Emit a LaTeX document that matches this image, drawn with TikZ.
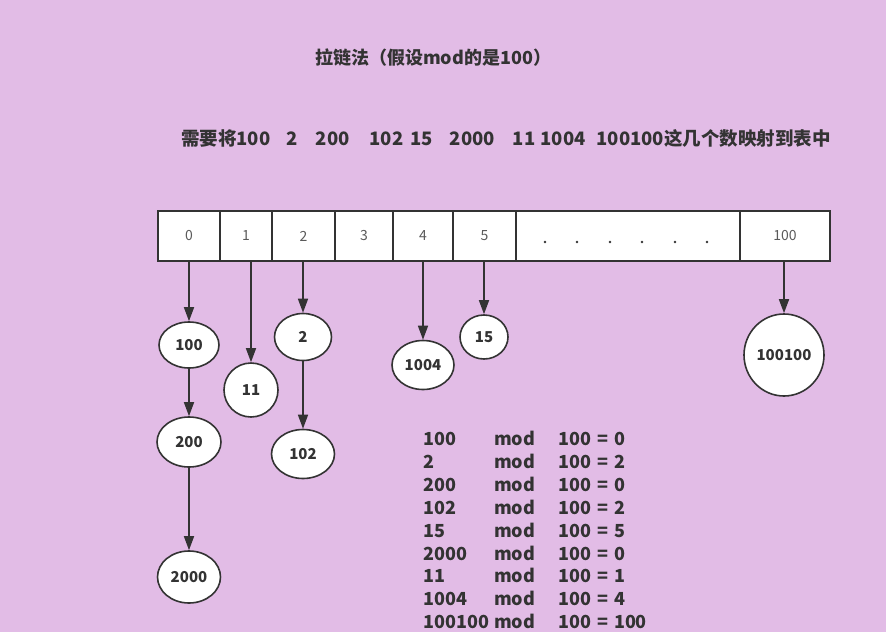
\documentclass[tikz,border=0pt]{standalone}
\usepackage{fontspec}
\setmainfont{Noto Sans CJK SC}
\usetikzlibrary{positioning, shapes.geometric, arrows.meta, calc}
\definecolor{hbg}{HTML}{E2BCE6}
\definecolor{hline}{HTML}{333333}
\definecolor{htext}{HTML}{333333}
\definecolor{hgray}{HTML}{5A5A5A}

\begin{document}
\begin{tikzpicture}[x=1pt, y=-1pt,
    cellbox/.style={draw=hline, line width=1.6pt, fill=white, inner sep=0pt,
      minimum height=50pt, text=hgray, font=\fontsize{14}{16}\selectfont},
    bucket/.style={ellipse, draw=hline, line width=1.6pt, fill=white, inner sep=0pt,
      text=htext, font=\fontsize{15}{17}\selectfont\bfseries},
    arr/.style={draw=hline, line width=1.6pt, -{Triangle[length=14pt, width=10pt]}},
    modtext/.style={anchor=base west, inner sep=0pt, text=htext,
      font=\fontsize{18}{20}\selectfont\bfseries}]
  \fill[hbg] (0,0) rectangle (886,632);
  \useasboundingbox (0,0) rectangle (886,632);
  % titles
  \node[anchor=west, inner sep=0pt, text=htext, font=\fontsize{18}{20}\selectfont\bfseries]
    (title) at (315,58) {拉链法（假设mod的是100）};
  \node[anchor=west, inner sep=0pt, text=htext, font=\fontsize{18.5}{20}\selectfont\bfseries]
    (task) at (181,138) {需要将100\hspace{16pt}2\hspace{18pt}200\hspace{20pt}102\hspace{7pt}15\hspace{17pt}2000\hspace{18pt}11\hspace{5pt}1004\hspace{11pt}100100这几个数映射到表中};
  % hash table
  \foreach \name/\xa/\xb/\lab in {c0/158/220/0, c1/220/272/1, c2/272/335/2, c3/335/393/3,
      c4/393/453/4, c5/453/516/5, cdots/516/740/{}, c100/740/830/100}
    \node[cellbox, minimum width={(\xb-\xa)*1pt}] (\name) at ({(\xa+\xb)/2},236) {\lab};
  \foreach \x in {545,577,610,642,675,707}
    \fill[hline] (\x,242) circle (1.4pt);
  % chained entries
  \node[bucket, minimum width=60pt, minimum height=46pt] (n100) at (189,345) {100};
  \node[bucket, minimum width=64pt, minimum height=50pt] (n200) at (189,442) {200};
  \node[bucket, minimum width=63pt, minimum height=52pt] (n2000) at (189,577) {2000};
  \node[bucket, minimum width=54pt, minimum height=54pt] (n11) at (251,390) {11};
  \node[bucket, minimum width=57pt, minimum height=47pt] (n2) at (303,337) {2};
  \node[bucket, minimum width=63pt, minimum height=49pt] (n102) at (303,454) {102};
  \node[bucket, minimum width=62pt, minimum height=49pt] (n1004) at (423,365) {1004};
  \node[bucket, minimum width=48pt, minimum height=44pt] (n15) at (484,337) {15};
  \node[bucket, minimum width=80pt, minimum height=82pt] (n100100) at (784,355) {100100};
  \draw[arr] (n100 |- c0.south) -- (n100);
  \draw[arr] (n100) -- (n200);
  \draw[arr] (n200) -- (n2000);
  \draw[arr] (n11 |- c1.south) -- (n11);
  \draw[arr] (n2 |- c2.south) -- (n2);
  \draw[arr] (n2) -- (n102);
  \draw[arr] (n1004 |- c4.south) -- (n1004);
  \draw[arr] (n15 |- c5.south) -- (n15);
  \draw[arr] (n100100 |- c100.south) -- (n100100);
  % mod list
  \foreach \i/\num/\res in {0/100/0, 1/2/2, 2/200/0, 3/102/2, 4/15/5, 5/2000/0,
      6/11/1, 7/1004/4, 8/100100/100} {
    \node[modtext] (num\i) at (423,{445.5+\i*22.9}) {\num};
    \node[modtext] (mod\i) at (494,{445.5+\i*22.9}) {mod};
    \node[modtext] (res\i) at (558,{445.5+\i*22.9}) {100\hspace{6pt}=\hspace{6pt}\res};
  }
\end{tikzpicture}
\end{document}
